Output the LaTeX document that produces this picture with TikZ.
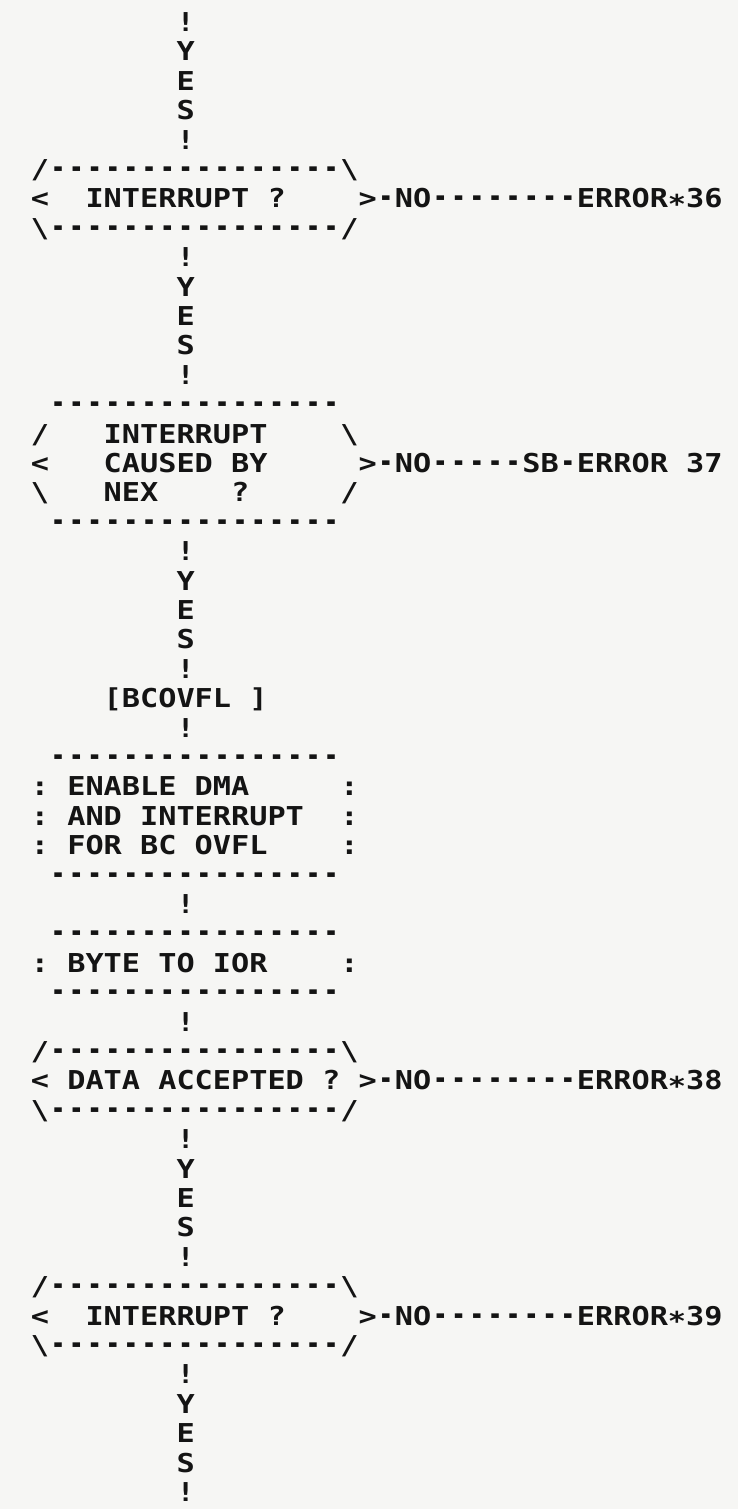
\documentclass[tikz,border=0pt]{standalone}
\usepackage{fontspec}
\setmonofont[FakeStretch=1.163]{DejaVu Sans Mono}
\usepackage{xcolor}
\usepackage{graphicx}
\usepackage{tikz}
\definecolor{paper}{RGB}{246,246,244}
\definecolor{ink}{RGB}{20,20,20}
\newcommand\dsh{\setbox0\hbox{-}\hbox to\wd0{\hss\scalebox{0.8}[1.25]{-}\hss}}
\newcommand\dshs[1]{\foreach\j in {1,...,#1}{\dsh}}
\newcommand\errstar{\raisebox{-0.2em}{*}}

\begin{document}
\begin{tikzpicture}[x=9.1pt,y=-14.7pt,
  chr/.style={anchor=base west,inner sep=0pt,outer sep=0pt,text=ink,
    font=\ttfamily\bfseries\fontsize{13pt}{13pt}\selectfont}]
\path[use as bounding box,fill=paper] (0,0) rectangle (40.549,51.327);
\begin{scope}[shift={(1.698,0.0714)}]
\foreach \s/\k in {0/ya,8/yb,18/yc,38/yd,46/ye}
  \foreach \ch [count=\i] in {!,Y,E,S,!}
    \node[chr] (\k\i) at (8,\s+\i) {\ch};
\foreach \r/\c/\q/\e [count=\n] in {6/3/{INTERRUPT ?}/36,36/2/{DATA ACCEPTED ?}/38,44/3/{INTERRUPT ?}/39} {
  \node[chr] (top\n) at (0,\r) {/\dshs{16}\textbackslash};
  \node[chr] (lt\n) at (0,\r+1) {<};
  \node[chr] (q\n) at (\c,\r+1) {\q};
  \node[chr] (no\n) at (18,\r+1) {>\dsh NO\dshs{8}ERROR\errstar\e};
  \node[chr] (bot\n) at (0,\r+2) {\textbackslash\dshs{16}/};
}
\node[chr] (hx1) at (1,14) {\dshs{16}};
\node[chr] (hx2) at (0,15) {/};
\node[chr] (nex1) at (4,15) {INTERRUPT};
\node[chr] (hx3) at (17,15) {\textbackslash};
\node[chr] (hx4) at (0,16) {<};
\node[chr] (nex2) at (4,16) {CAUSED BY};
\node[chr] (no4) at (18,16) {>\dsh NO\dshs{5}SB\dsh ERROR 37};
\node[chr] (hx5) at (0,17) {\textbackslash};
\node[chr] (nex3) at (4,17) {NEX};
\node[chr] (nex4) at (11,17) {?};
\node[chr] (hx6) at (17,17) {/};
\node[chr] (hx7) at (1,18) {\dshs{16}};
\node[chr] (bcovfl) at (4,24) {[BCOVFL ]};
\foreach \r in {25,31,35}
  \node[chr] (bar\r) at (8,\r) {!};
\foreach \r in {26,30,32,34}
  \node[chr] (ln\r) at (1,\r) {\dshs{16}};
\foreach \r/\t in {27/{ENABLE DMA},28/{AND INTERRUPT},29/{FOR BC OVFL},33/{BYTE TO IOR}} {
  \node[chr] (l\r) at (0,\r) {:};
  \node[chr] (p\r) at (2,\r) {\t};
  \node[chr] (r\r) at (17,\r) {:};
}
\end{scope}
\end{tikzpicture}
\end{document}
